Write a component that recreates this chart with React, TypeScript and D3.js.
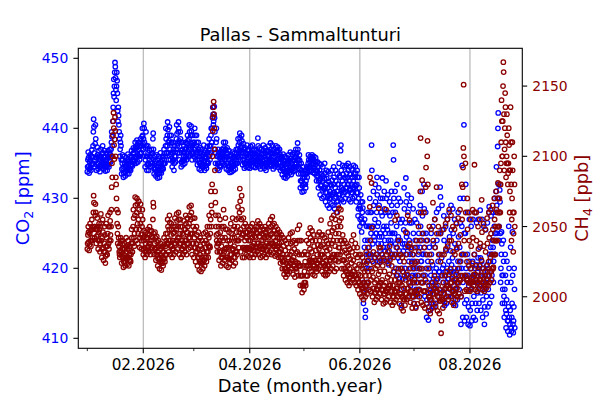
import React from "react";
import * as d3 from "d3";

// Title / labels
const title = "Pallas - Sammaltunturi";
const xLabel = "Date (month.year)";

// Axis ticks
const co2Ticks = [410, 420, 430, 440, 450];
const ch4Ticks = [2000, 2050, 2100, 2150];
const majorMonths = [1, 3, 5, 7]; // Feb, Apr, Jun, Aug 2026 (0-based)
const minorMonths = [0, 2, 4, 6];

// Month start (day offset from 1 Jan 2026) for each data block
const monthStartDays = [0, 31, 59, 90, 120, 151, 181, 212];
const PER_DAY = 6; // 4-hourly readings

// CO2 [ppm], one line per day
const co2Jan = [
  433.8, 434.5, 435.5, 436.6, 435.8, 434.6,
  433.6, 434.2, 435.2, 436.2, 435.5, 434.4,
  434.0, 434.8, 436.0, 436.9, 435.9, 434.9,
  435.0, 437.5, 439.5, 441.3, 440.2, 436.5,
  434.5, 435.5, 437.8, 440.5, 438.5, 435.8,
  434.0, 434.8, 435.8, 437.3, 436.2, 435.0,
  434.2, 435.0, 436.0, 436.8, 435.8, 434.6,
  433.8, 434.5, 435.5, 437.0, 436.0, 434.8,
  434.5, 435.2, 436.4, 437.5, 436.5, 435.2,
  434.2, 434.9, 435.8, 436.8, 436.0, 434.8,
  433.9, 434.5, 435.2, 436.4, 435.6, 434.5,
  434.0, 434.8, 435.8, 436.8, 436.0, 434.8,
  434.5, 435.3, 436.2, 437.0, 436.3, 435.2,
  436.0, 437.0, 438.0, 439.5, 438.8, 437.5,
  439.0, 441.0, 443.0, 445.0, 447.0, 444.5,
  446.0, 448.0, 449.4, 448.8, 447.2, 445.5,
  444.0, 446.0, 448.0, 446.8, 445.0, 442.5,
  441.0, 443.0, 441.8, 440.5, 439.5, 438.5,
  436.0, 437.0, 438.0, 439.0, 437.5, 435.5,
  433.5, 434.2, 435.0, 436.2, 435.5, 434.3,
  433.0, 433.6, 434.5, 436.0, 435.0, 433.8,
  433.2, 433.8, 434.6, 435.8, 435.0, 434.0,
  433.5, 434.2, 435.2, 436.3, 435.5, 434.4,
  433.5, 434.2, 435.0, 436.0, 435.3, 434.2,
  434.0, 434.8, 435.8, 436.8, 436.0, 434.8,
  434.6, 435.4, 436.4, 437.2, 436.5, 435.3,
  435.0, 435.8, 437.0, 438.0, 437.2, 436.0,
  435.0, 436.0, 437.2, 438.3, 437.6, 436.2,
  435.2, 436.0, 437.0, 438.0, 437.4, 436.0,
  435.5, 436.4, 437.5, 438.5, 437.8, 436.5,
  436.5, 437.5, 438.8, 440.0, 439.0, 437.8,
];
const co2Feb = [
  437.0, 438.5, 440.7, 440.0, 438.0, 436.0,
  434.5, 435.5, 437.2, 439.5, 437.5, 436.0,
  434.0, 434.8, 436.0, 437.5, 436.5, 435.0,
  434.0, 434.8, 435.5, 436.8, 436.0, 434.6,
  434.5, 435.2, 436.2, 437.0, 436.4, 435.0,
  435.0, 436.5, 438.5, 439.3, 437.0, 435.5,
  433.5, 434.2, 435.0, 436.0, 435.3, 434.2,
  433.2, 433.8, 434.6, 436.2, 435.5, 434.0,
  432.9, 433.5, 434.5, 436.0, 435.0, 433.6,
  433.0, 433.6, 434.5, 436.5, 435.2, 434.0,
  433.6, 434.3, 435.2, 436.0, 435.5, 434.3,
  434.2, 435.0, 436.0, 437.0, 436.4, 435.0,
  435.0, 436.0, 437.5, 440.0, 438.5, 436.5,
  436.5, 437.5, 439.0, 440.9, 439.8, 438.0,
  435.5, 436.5, 438.2, 440.2, 439.0, 437.0,
  435.5, 436.3, 437.8, 439.0, 438.0, 436.5,
  434.5, 435.3, 436.5, 438.0, 437.0, 435.5,
  434.0, 435.0, 436.0, 437.5, 436.6, 435.2,
  436.0, 437.0, 438.5, 440.5, 439.2, 437.5,
  436.5, 437.8, 439.5, 440.9, 440.0, 438.2,
  435.5, 436.5, 438.0, 439.5, 438.5, 436.8,
  434.5, 435.2, 436.5, 438.0, 437.0, 435.4,
  434.8, 435.4, 436.0, 437.5, 436.6, 435.5,
  435.0, 435.8, 437.0, 438.0, 437.2, 436.0,
  435.5, 436.3, 437.8, 439.0, 438.2, 436.6,
  436.0, 437.0, 438.5, 440.5, 439.5, 437.5,
  436.2, 437.2, 439.0, 440.3, 439.6, 437.8,
  435.5, 436.3, 437.5, 439.0, 438.0, 436.5,
];
const co2Mar = [
  436.0, 437.0, 438.0, 440.0, 439.0, 437.2,
  435.5, 436.3, 437.5, 439.0, 438.0, 436.6,
  434.8, 435.5, 436.5, 438.0, 437.0, 435.6,
  434.2, 435.0, 436.0, 437.2, 436.4, 435.0,
  434.0, 434.6, 435.5, 437.0, 436.0, 434.8,
  434.5, 435.2, 436.2, 437.6, 436.6, 435.3,
  434.0, 434.6, 435.8, 436.8, 436.0, 434.7,
  434.3, 435.0, 436.5, 437.4, 436.6, 435.2,
  435.0, 436.0, 437.0, 438.5, 437.5, 436.2,
  435.5, 436.5, 437.5, 439.0, 440.0, 438.0,
  438.0, 440.0, 441.5, 443.0, 442.0, 440.5,
  441.0, 442.0, 443.1, 441.5, 439.5, 437.0,
  435.0, 436.5, 438.0, 440.0, 438.5, 436.0,
  434.2, 435.0, 436.0, 437.0, 436.3, 435.0,
  434.0, 434.6, 435.8, 436.6, 436.0, 434.7,
  434.5, 435.2, 436.2, 437.0, 436.4, 435.2,
  435.0, 436.0, 437.0, 438.0, 437.2, 436.0,
  434.8, 435.5, 436.8, 438.0, 437.0, 435.8,
  434.2, 435.0, 436.0, 437.2, 436.4, 435.0,
  434.0, 434.6, 435.5, 436.8, 436.0, 434.6,
  433.7, 434.2, 435.0, 436.2, 435.5, 434.3,
  433.8, 434.5, 435.2, 436.6, 435.8, 434.6,
  434.0, 434.8, 435.6, 436.4, 435.9, 434.8,
  434.2, 435.0, 436.0, 437.0, 436.4, 435.0,
  435.0, 436.0, 437.0, 438.5, 437.6, 436.2,
  435.8, 436.8, 438.0, 439.3, 438.6, 437.2,
  435.5, 436.5, 437.5, 439.0, 438.2, 436.8,
  434.8, 435.5, 436.5, 437.8, 437.0, 435.6,
  434.3, 435.0, 436.0, 437.2, 436.4, 435.0,
  434.5, 435.2, 436.2, 437.6, 436.8, 435.3,
  434.4, 435.0, 435.8, 437.0, 436.2, 435.0,
];
const co2Apr = [
  434.3, 435.0, 436.0, 437.4, 436.5, 435.2,
  434.6, 435.4, 436.4, 437.6, 436.8, 435.5,
  434.5, 435.2, 436.0, 437.0, 436.4, 435.2,
  434.4, 435.0, 435.8, 436.8, 436.2, 435.0,
  434.8, 435.5, 436.5, 438.6, 437.5, 435.6,
  434.5, 435.2, 436.0, 437.2, 436.5, 435.3,
  434.2, 435.0, 435.8, 437.0, 436.3, 435.0,
  434.6, 435.3, 436.4, 437.6, 436.8, 435.5,
  434.3, 435.0, 436.0, 437.2, 436.4, 435.1,
  434.0, 434.7, 435.6, 436.8, 436.0, 434.8,
  434.5, 435.2, 436.2, 437.5, 436.7, 435.3,
  434.8, 435.5, 436.5, 437.9, 437.0, 435.6,
  434.6, 435.4, 436.4, 437.6, 436.8, 435.4,
  434.2, 435.0, 436.0, 437.0, 436.4, 435.0,
  434.5, 435.2, 436.2, 437.5, 436.7, 435.3,
  434.8, 435.5, 436.6, 437.3, 436.8, 435.6,
  434.4, 435.1, 436.0, 437.0, 436.3, 435.1,
  434.0, 434.6, 435.6, 436.0, 435.8, 434.6,
  433.4, 434.2, 435.0, 436.3, 435.5, 434.2,
  433.0, 433.8, 434.8, 436.0, 435.2, 433.9,
  432.9, 433.6, 434.5, 435.8, 435.0, 433.7,
  433.2, 434.0, 435.0, 436.2, 435.4, 434.0,
  433.6, 434.4, 435.2, 436.6, 435.7, 434.4,
  433.4, 434.2, 435.0, 436.3, 435.5, 434.2,
  433.8, 434.5, 435.4, 436.5, 435.8, 434.5,
  434.0, 434.8, 435.8, 437.0, 436.2, 434.9,
  434.5, 435.5, 436.5, 437.9, 437.0, 435.6,
  433.5, 434.2, 435.0, 436.2, 435.4, 434.2,
  431.5, 432.5, 433.5, 435.0, 434.0, 432.5,
  430.9, 431.8, 432.8, 434.5, 433.5, 432.0,
];
const co2May = [
  431.0, 432.0, 433.0, 434.0, 433.4, 432.0,
  431.5, 432.5, 433.5, 434.5, 434.0, 433.0,
  433.7, 434.3, 435.0, 436.2, 435.5, 434.4,
  433.8, 434.5, 435.2, 436.0, 435.6, 434.5,
  434.0, 434.8, 435.5, 436.2, 435.8, 434.8,
  433.7, 434.3, 435.0, 436.0, 435.4, 434.3,
  433.5, 434.0, 434.8, 435.8, 435.2, 434.0,
  432.5, 433.2, 434.0, 435.2, 434.5, 433.2,
  431.5, 432.5, 433.5, 435.0, 434.0, 432.6,
  430.5, 431.8, 432.8, 434.8, 433.5, 431.8,
  430.0, 431.2, 432.5, 434.5, 433.2, 431.4,
  430.2, 431.5, 432.8, 435.0, 433.6, 431.6,
  429.5, 430.8, 432.0, 434.0, 432.8, 430.8,
  429.0, 430.2, 431.5, 433.8, 432.4, 430.4,
  428.6, 430.0, 431.0, 433.5, 432.0, 430.0,
  429.2, 430.5, 431.8, 434.0, 432.6, 430.6,
  429.0, 430.8, 432.0, 434.5, 433.0, 430.8,
  428.5, 430.0, 431.5, 434.0, 432.5, 430.2,
  428.0, 429.5, 431.0, 433.5, 432.0, 429.6,
  429.0, 430.5, 432.0, 435.0, 433.2, 430.6,
  430.0, 433.0, 436.8, 437.6, 434.0, 431.5,
  429.8, 431.2, 432.5, 434.7, 433.4, 431.2,
  429.5, 430.8, 432.0, 434.5, 433.0, 430.9,
  430.0, 431.5, 432.8, 434.7, 433.6, 431.5,
  430.5, 432.0, 433.0, 435.0, 434.0, 432.0,
  429.8, 431.2, 432.5, 434.5, 433.4, 431.2,
  429.5, 430.8, 432.0, 434.2, 433.0, 430.8,
  430.0, 431.5, 432.5, 434.7, 433.5, 431.5,
  430.2, 431.8, 433.0, 434.5, 433.6, 431.8,
  429.5, 430.8, 432.0, 434.0, 433.0, 430.8,
  427.5, 428.5, 430.0, 433.0, 431.5, 428.8,
];
const co2Jun = [
  426.0, 427.0, 428.5, 430.5, 429.5, 427.2,
  425.2, 426.5, 428.0, 429.5, 428.6, 426.5,
  415.0, 418.0, 421.0, 423.0, 427.0, 424.0,
  413.0, 414.0, 417.0, 420.0, 426.0, 422.0,
  418.0, 421.0, 424.0, 428.0, 426.0, 422.0,
  420.0, 423.0, 426.0, 430.0, 428.0, 424.0,
  422.0, 425.0, 428.0, 437.6, 434.0, 426.0,
  421.0, 423.5, 426.0, 431.0, 429.0, 424.5,
  421.5, 424.0, 427.0, 432.0, 429.5, 425.0,
  422.0, 425.0, 428.0, 433.0, 430.5, 426.0,
  421.0, 423.5, 426.5, 431.5, 429.0, 424.5,
  420.9, 422.5, 425.0, 430.0, 428.0, 423.5,
  422.0, 424.5, 427.5, 432.9, 430.0, 425.5,
  421.5, 423.0, 426.0, 431.0, 428.5, 424.0,
  422.5, 425.0, 428.0, 432.5, 430.0, 426.0,
  421.0, 423.0, 425.5, 430.5, 428.0, 424.0,
  420.5, 422.5, 425.0, 429.5, 427.5, 423.5,
  421.5, 424.0, 426.5, 431.0, 429.0, 425.0,
  422.0, 425.0, 428.0, 437.6, 435.5, 430.0,
  419.5, 422.0, 425.0, 431.0, 428.0, 423.5,
  420.0, 423.0, 426.0, 432.0, 429.0, 424.0,
  419.0, 421.5, 424.5, 430.0, 427.0, 422.5,
  418.6, 421.0, 424.0, 429.5, 426.5, 422.0,
  414.7, 417.0, 420.0, 427.0, 423.5, 418.5,
  419.5, 422.5, 425.5, 431.5, 428.5, 423.5,
  420.0, 423.0, 426.5, 432.9, 429.5, 424.5,
  419.0, 422.0, 425.0, 430.5, 428.0, 423.0,
  418.6, 421.0, 424.0, 429.0, 426.5, 422.0,
  417.5, 420.0, 423.0, 430.0, 426.5, 421.0,
  416.0, 419.0, 422.0, 428.5, 425.0, 420.0,
];
const co2Jul = [
  415.0, 418.0, 421.0, 427.0, 424.0, 419.0,
  414.5, 417.0, 420.0, 426.5, 423.0, 418.0,
  416.0, 419.0, 422.0, 428.0, 425.0, 420.0,
  417.0, 420.0, 423.0, 429.0, 426.0, 421.0,
  418.0, 421.0, 424.0, 431.0, 427.5, 422.0,
  419.0, 422.0, 425.0, 432.0, 428.5, 423.0,
  416.0, 419.0, 422.0, 428.0, 425.0, 420.0,
  413.0, 415.5, 418.0, 424.0, 421.0, 416.5,
  412.6, 414.5, 417.0, 423.0, 420.0, 415.5,
  414.0, 416.5, 419.0, 425.0, 422.0, 417.5,
  415.0, 418.0, 420.5, 426.0, 423.5, 418.5,
  414.5, 417.0, 419.5, 427.0, 423.0, 418.0,
  415.0, 417.5, 420.0, 428.0, 424.0, 418.5,
  416.0, 418.5, 421.0, 428.5, 425.0, 419.5,
  417.0, 419.5, 422.0, 431.6, 430.2, 425.0,
  416.5, 419.0, 421.5, 429.0, 425.5, 420.0,
  415.5, 418.0, 420.5, 427.5, 424.0, 419.0,
  414.7, 417.0, 419.5, 426.0, 422.5, 418.0,
  415.0, 417.5, 420.0, 427.0, 423.5, 418.5,
  416.0, 418.5, 421.0, 428.0, 424.5, 419.5,
  417.0, 419.5, 422.5, 429.0, 425.5, 420.5,
  416.0, 418.5, 421.5, 428.5, 425.0, 419.5,
  415.0, 417.5, 420.0, 427.0, 423.5, 418.5,
  414.7, 417.0, 419.5, 426.5, 423.0, 418.0,
  415.5, 418.0, 421.0, 428.0, 424.5, 419.0,
  417.0, 420.0, 423.0, 430.0, 426.5, 421.0,
  412.0, 416.0, 420.0, 426.0, 434.7, 422.0,
  413.0, 418.0, 422.0, 430.0, 440.5, 425.0,
  412.5, 415.0, 419.0, 425.0, 432.0, 420.0,
  413.0, 415.5, 418.5, 422.0, 428.0, 419.0,
  412.0, 414.5, 417.5, 421.0, 427.0, 418.0,
];
const co2Aug = [
  411.8, 414.0, 417.0, 420.0, 426.0, 418.0,
  412.5, 415.0, 418.0, 421.0, 427.0, 419.0,
  413.0, 416.0, 419.0, 422.0, 428.0, 420.0,
  412.6, 415.0, 418.0, 420.5, 426.5, 419.0,
  414.0, 416.5, 419.5, 421.5, 427.0, 420.0,
  415.0, 417.5, 420.5, 423.0, 428.3, 421.5,
  414.0, 416.5, 419.0, 421.0, 427.0, 420.0,
  413.0, 415.5, 418.0, 420.0, 426.0, 419.0,
  412.0, 414.5, 417.0, 419.0, 425.5, 418.0,
  413.5, 416.0, 418.5, 420.5, 426.5, 419.5,
  414.5, 417.0, 420.0, 428.0, 428.8, 422.0,
  415.0, 418.0, 421.0, 423.0, 427.5, 422.0,
  416.0, 419.0, 422.0, 424.0, 428.0, 423.0,
  418.0, 421.0, 424.0, 426.0, 430.0, 425.0,
  422.0, 425.0, 428.0, 431.0, 434.5, 429.0,
  425.0, 430.0, 437.4, 440.0, 442.2, 432.0,
  424.0, 426.0, 428.0, 431.2, 429.5, 425.0,
  418.0, 420.0, 422.0, 425.2, 423.5, 419.0,
  415.0, 417.0, 419.0, 424.0, 421.0, 416.0,
  413.0, 415.0, 417.0, 422.0, 419.0, 414.0,
  411.5, 413.5, 415.5, 421.0, 418.0, 412.5,
  411.0, 412.5, 414.5, 426.0, 420.0, 413.0,
  410.5, 412.0, 414.0, 423.0, 418.0, 411.5,
  411.0, 413.0, 415.0, 425.2, 419.0, 412.0,
  410.8, 412.5, 414.5, 420.0, 417.0, 411.5,
];

// CH4 [ppb], one line per day
const ch4Jan = [
  2034, 2038, 2044, 2050, 2046, 2039,
  2033, 2037, 2045, 2052, 2047, 2040,
  2036, 2040, 2048, 2055, 2050, 2042,
  2040, 2048, 2060, 2072, 2067, 2050,
  2042, 2050, 2058, 2066, 2060, 2048,
  2038, 2043, 2048, 2056, 2050, 2044,
  2034, 2040, 2046, 2052, 2048, 2040,
  2032, 2038, 2050, 2059, 2052, 2040,
  2028, 2034, 2042, 2055, 2046, 2035,
  2026, 2032, 2038, 2050, 2044, 2032,
  2024, 2029, 2036, 2052, 2042, 2030,
  2030, 2036, 2045, 2058, 2050, 2038,
  2034, 2040, 2050, 2060, 2054, 2044,
  2040, 2050, 2062, 2078, 2095, 2085,
  2100, 2115, 2125, 2131, 2120, 2108,
  2098, 2112, 2128, 2118, 2100, 2085,
  2080, 2070, 2062, 2052, 2045, 2038,
  2060, 2050, 2042, 2036, 2032, 2030,
  2028, 2033, 2038, 2042, 2040, 2032,
  2024, 2029, 2034, 2040, 2037, 2028,
  2021, 2025, 2030, 2038, 2034, 2025,
  2022, 2027, 2032, 2042, 2036, 2027,
  2023, 2028, 2034, 2040, 2037, 2028,
  2022, 2026, 2030, 2036, 2033, 2026,
  2025, 2030, 2038, 2048, 2042, 2032,
  2032, 2038, 2050, 2062, 2056, 2042,
  2036, 2045, 2058, 2071, 2065, 2048,
  2040, 2048, 2060, 2070, 2066, 2052,
  2038, 2045, 2055, 2068, 2062, 2048,
  2035, 2042, 2052, 2066, 2058, 2044,
  2034, 2040, 2050, 2062, 2055, 2042,
];
const ch4Feb = [
  2030, 2034, 2040, 2047, 2043, 2035,
  2028, 2032, 2038, 2046, 2042, 2033,
  2030, 2035, 2042, 2048, 2045, 2036,
  2032, 2038, 2044, 2050, 2047, 2038,
  2030, 2034, 2040, 2047, 2043, 2035,
  2035, 2042, 2055, 2067, 2064, 2045,
  2030, 2034, 2038, 2046, 2042, 2034,
  2026, 2030, 2035, 2043, 2039, 2030,
  2022, 2027, 2032, 2040, 2036, 2027,
  2020, 2025, 2030, 2038, 2034, 2025,
  2019, 2024, 2028, 2036, 2032, 2024,
  2022, 2027, 2032, 2042, 2037, 2027,
  2025, 2030, 2036, 2045, 2040, 2030,
  2030, 2038, 2045, 2055, 2050, 2038,
  2032, 2040, 2048, 2058, 2053, 2040,
  2030, 2036, 2044, 2052, 2048, 2036,
  2028, 2034, 2040, 2050, 2045, 2034,
  2030, 2038, 2046, 2056, 2050, 2038,
  2032, 2040, 2048, 2059, 2054, 2040,
  2034, 2042, 2050, 2060, 2055, 2042,
  2030, 2038, 2045, 2055, 2050, 2038,
  2028, 2034, 2040, 2050, 2045, 2034,
  2030, 2036, 2044, 2054, 2048, 2036,
  2032, 2040, 2048, 2058, 2052, 2040,
  2030, 2038, 2046, 2056, 2050, 2038,
  2034, 2042, 2052, 2064, 2058, 2042,
  2035, 2045, 2055, 2065, 2060, 2045,
  2030, 2038, 2045, 2056, 2050, 2038,
];
const ch4Mar = [
  2028, 2035, 2042, 2056, 2048, 2035,
  2025, 2032, 2038, 2050, 2044, 2032,
  2022, 2028, 2034, 2046, 2040, 2028,
  2019, 2025, 2030, 2042, 2036, 2025,
  2018, 2024, 2028, 2040, 2034, 2024,
  2020, 2026, 2032, 2045, 2038, 2026,
  2022, 2028, 2035, 2046, 2040, 2028,
  2025, 2032, 2038, 2050, 2044, 2032,
  2028, 2036, 2042, 2058, 2050, 2036,
  2035, 2045, 2055, 2075, 2065, 2050,
  2060, 2080, 2100, 2118, 2128, 2135,
  2139, 2130, 2120, 2105, 2090, 2075,
  2067, 2058, 2050, 2044, 2040, 2036,
  2032, 2038, 2045, 2058, 2050, 2038,
  2026, 2032, 2040, 2055, 2046, 2032,
  2022, 2028, 2036, 2050, 2042, 2028,
  2024, 2030, 2040, 2062, 2050, 2032,
  2026, 2034, 2042, 2056, 2048, 2034,
  2022, 2028, 2035, 2048, 2040, 2028,
  2021, 2027, 2034, 2046, 2040, 2027,
  2024, 2030, 2038, 2052, 2045, 2030,
  2026, 2034, 2042, 2056, 2048, 2034,
  2022, 2028, 2036, 2050, 2042, 2028,
  2024, 2032, 2040, 2055, 2046, 2032,
  2030, 2040, 2050, 2064, 2056, 2040,
  2035, 2046, 2060, 2077, 2068, 2048,
  2032, 2042, 2055, 2072, 2062, 2044,
  2028, 2035, 2045, 2056, 2050, 2035,
  2028, 2034, 2040, 2052, 2046, 2034,
  2030, 2035, 2042, 2050, 2046, 2035,
  2029, 2034, 2040, 2048, 2044, 2034,
];
const ch4Apr = [
  2028, 2034, 2040, 2050, 2045, 2034,
  2030, 2036, 2042, 2052, 2047, 2036,
  2028, 2033, 2038, 2048, 2043, 2033,
  2030, 2035, 2042, 2050, 2046, 2035,
  2032, 2038, 2045, 2054, 2050, 2038,
  2030, 2036, 2043, 2052, 2047, 2036,
  2028, 2034, 2040, 2050, 2045, 2034,
  2029, 2034, 2040, 2048, 2044, 2034,
  2030, 2036, 2042, 2050, 2046, 2036,
  2028, 2033, 2038, 2048, 2043, 2033,
  2030, 2036, 2042, 2052, 2047, 2036,
  2032, 2038, 2044, 2055, 2050, 2038,
  2030, 2038, 2045, 2057, 2051, 2038,
  2031, 2036, 2042, 2052, 2047, 2036,
  2029, 2034, 2040, 2050, 2045, 2034,
  2030, 2036, 2042, 2048, 2045, 2036,
  2028, 2032, 2038, 2046, 2042, 2032,
  2024, 2028, 2034, 2044, 2039, 2028,
  2020, 2025, 2030, 2042, 2036, 2025,
  2016, 2020, 2026, 2040, 2033, 2020,
  2014, 2018, 2024, 2038, 2030, 2018,
  2016, 2022, 2028, 2042, 2035, 2022,
  2018, 2024, 2030, 2045, 2038, 2024,
  2020, 2026, 2032, 2046, 2039, 2026,
  2016, 2022, 2028, 2040, 2034, 2022,
  2014, 2020, 2025, 2038, 2031, 2020,
  2018, 2024, 2032, 2048, 2040, 2024,
  2015, 2022, 2030, 2051, 2040, 2022,
  2008, 2015, 2022, 2040, 2030, 2015,
  2003, 2008, 2015, 2030, 2022, 2008,
];
const ch4May = [
  2005, 2010, 2018, 2032, 2025, 2010,
  2008, 2015, 2022, 2040, 2030, 2015,
  2015, 2022, 2030, 2045, 2038, 2022,
  2020, 2026, 2034, 2049, 2042, 2026,
  2018, 2025, 2032, 2047, 2040, 2025,
  2016, 2022, 2028, 2044, 2036, 2022,
  2015, 2020, 2026, 2040, 2033, 2020,
  2018, 2024, 2030, 2044, 2037, 2024,
  2020, 2026, 2034, 2046, 2040, 2026,
  2022, 2030, 2036, 2054.6, 2044, 2030,
  2018, 2024, 2030, 2044, 2037, 2024,
  2016, 2022, 2028, 2042, 2035, 2022,
  2015, 2020, 2026, 2040, 2033, 2020,
  2016, 2022, 2030, 2046, 2038, 2022,
  2018, 2026, 2034, 2052, 2043, 2026,
  2020, 2028, 2038, 2056, 2047, 2028,
  2022, 2030, 2040, 2058, 2049, 2030,
  2018, 2026, 2036, 2055, 2045, 2026,
  2020, 2030, 2040, 2060, 2050, 2030,
  2025, 2035, 2045, 2063, 2054, 2035,
  2030, 2040, 2050, 2062, 2056, 2040,
  2020, 2026, 2032, 2044, 2038, 2026,
  2015, 2020, 2026, 2040, 2033, 2020,
  2012, 2018, 2024, 2038, 2031, 2018,
  2010, 2016, 2022, 2036, 2029, 2016,
  2008, 2014, 2020, 2034, 2027, 2014,
  2010, 2016, 2024, 2040, 2032, 2016,
  2012, 2018, 2026, 2044, 2035, 2018,
  2010, 2015, 2022, 2038, 2030, 2015,
  2008, 2013, 2020, 2035, 2028, 2013,
  2005, 2010, 2016, 2030, 2023, 2010,
];
const ch4Jun = [
  2002, 2008, 2015, 2030, 2022, 2008,
  2000, 2006, 2012, 2028, 2020, 2006,
  1998, 2004, 2010, 2025, 2018, 2004,
  2000, 2008, 2015, 2032, 2024, 2008,
  2002, 2010, 2018, 2035, 2026, 2010,
  2005, 2015, 2030, 2064, 2085, 2040,
  2004, 2012, 2020, 2081, 2049, 2018,
  2000, 2006, 2014, 2032, 2024, 2006,
  1996, 2003, 2010, 2028, 2020, 2003,
  1998, 2005, 2012, 2030, 2022, 2005,
  2000, 2008, 2016, 2063, 2035, 2008,
  2002, 2010, 2018, 2035, 2026, 2010,
  1998, 2005, 2012, 2030, 2022, 2005,
  1995, 2002, 2008, 2026, 2018, 2002,
  1996, 2004, 2010, 2062, 2030, 2004,
  1998, 2006, 2014, 2032, 2024, 2006,
  2000, 2008, 2016, 2036, 2026, 2008,
  1996, 2004, 2012, 2030, 2022, 2004,
  1994, 2000, 2008, 2028, 2018, 2000,
  1996, 2004, 2012, 2054.6, 2030, 2004,
  1998, 2006, 2015, 2058, 2035, 2006,
  2000, 2010, 2020, 2040, 2030, 2010,
  1995, 2002, 2010, 2030, 2020, 2002,
  1992, 2000, 2008, 2028, 2018, 2000,
  1990, 1998, 2006, 2025, 2015, 1998,
  1994, 2002, 2012, 2046, 2030, 2002,
  1998, 2006, 2016, 2058, 2036, 2006,
  2000, 2010, 2020, 2054.6, 2038, 2010,
  1996, 2004, 2014, 2034, 2024, 2004,
  1992, 2000, 2010, 2030, 2020, 2000,
];
const ch4Jul = [
  1995, 2004, 2012, 2035, 2024, 2004,
  1992, 2002, 2010, 2040, 2025, 2002,
  1995, 2005, 2015, 2050, 2032, 2005,
  2000, 2020, 2040, 2075, 2113, 2060,
  1996, 2010, 2020, 2083, 2045, 2010,
  1994, 2004, 2015, 2060, 2035, 2004,
  1992, 2004, 2012, 2078, 2092, 2040,
  1995, 2030, 2100, 2111, 2080, 2020,
  1990, 2000, 2008, 2050, 2030, 2000,
  1988, 1998, 2005, 2048, 2025, 1998,
  1992, 2002, 2010, 2067, 2040, 2002,
  1995, 2006, 2015, 2055, 2035, 2006,
  1993, 2004, 2012, 2078, 2045, 2004,
  1990, 2000, 2008, 2050, 2030, 2000,
  1988, 1997, 2005, 2045, 2025, 1997,
  1974, 1983, 1998, 2030, 2015, 1998,
  1992, 2002, 2010, 2048, 2030, 2002,
  1996, 2006, 2015, 2052, 2034, 2006,
  2000, 2008, 2018, 2055, 2036, 2008,
  1998, 2006, 2016, 2062, 2040, 2006,
  2000, 2010, 2020, 2058, 2040, 2010,
  1996, 2004, 2014, 2050, 2032, 2004,
  1994, 2002, 2012, 2048, 2030, 2002,
  1998, 2006, 2016, 2052, 2034, 2006,
  2000, 2010, 2020, 2056, 2038, 2010,
  2002, 2012, 2025, 2062, 2044, 2012,
  2000, 2015, 2030, 2080, 2055, 2015,
  2078, 2092, 2106, 2151, 2100, 2040,
  2004, 2015, 2030, 2095, 2060, 2015,
  2005, 2012, 2025, 2070, 2048, 2012,
  2004, 2010, 2022, 2060, 2040, 2010,
];
const ch4Aug = [
  2004, 2010, 2020, 2055, 2036, 2010,
  2006, 2014, 2024, 2062, 2042, 2014,
  2008, 2016, 2030, 2094, 2060, 2016,
  2005, 2012, 2022, 2060, 2040, 2012,
  2004, 2010, 2018, 2050, 2034, 2010,
  2006, 2012, 2022, 2055, 2038, 2012,
  2008, 2015, 2026, 2069, 2046, 2015,
  2005, 2010, 2020, 2052, 2036, 2010,
  2004, 2008, 2018, 2048, 2032, 2008,
  2006, 2012, 2022, 2056, 2038, 2012,
  2008, 2015, 2025, 2060, 2042, 2015,
  2010, 2018, 2028, 2062, 2045, 2018,
  2012, 2020, 2030, 2065, 2048, 2020,
  2021, 2030, 2040, 2070, 2055, 2030,
  2030, 2040, 2050, 2075, 2062, 2040,
  2040, 2050, 2060, 2081, 2070, 2050,
  2050, 2060, 2070, 2090, 2080, 2060,
  2080, 2095, 2110, 2140, 2125, 2100,
  2100, 2125, 2150, 2167, 2160, 2130,
  2090, 2105, 2120, 2145, 2135, 2110,
  2085, 2095, 2100, 2130, 2115, 2095,
  2080, 2088, 2095, 2120, 2108, 2090,
  2060, 2075, 2090, 2135, 2110, 2080,
  2040, 2055, 2070, 2110, 2090, 2060,
  2032, 2045, 2060, 2100, 2080, 2050,
];

const co2Months = [co2Jan, co2Feb, co2Mar, co2Apr, co2May, co2Jun, co2Jul, co2Aug];
const ch4Months = [ch4Jan, ch4Feb, ch4Mar, ch4Apr, ch4May, ch4Jun, ch4Jul, ch4Aug];

const DAY = 86400000;
const YEAR_START = Date.UTC(2026, 0, 1);

function toPoints(months: number[][]) {
  const pts: { t: Date; v: number }[] = [];
  months.forEach((arr, m) => {
    arr.forEach((v, i) => {
      const day = monthStartDays[m] + Math.floor(i / PER_DAY) + (i % PER_DAY) / PER_DAY;
      pts.push({ t: new Date(YEAR_START + day * DAY), v });
    });
  });
  return pts;
}

const W = 600;
const H = 400;
const M = { left: 78.3, right: 522.3, top: 48.3, bottom: 348.3 };
const FONT = "DejaVu Sans, sans-serif";
const BLUE = "#0000ff";
const RED = "#8b0000";
const MARKER_R = 2.25;
const MARKER_W = 1.3;

export default function App() {
  const x = d3
    .scaleUtc()
    .domain([new Date(Date.UTC(2025, 11, 27)), new Date(Date.UTC(2026, 7, 30))])
    .range([M.left, M.right]);
  const yL = d3.scaleLinear().domain([408.571, 451.429]).range([M.bottom, M.top]);
  const yR = d3.scaleLinear().domain([1963.3, 2176.9]).range([M.bottom, M.top]);

  const co2 = toPoints(co2Months);
  const ch4 = toPoints(ch4Months);
  const fmt = d3.utcFormat("%m.%Y");
  const major = majorMonths.map((m) => new Date(Date.UTC(2026, m, 1)));
  const minor = minorMonths.map((m) => new Date(Date.UTC(2026, m, 1)));

  return (
    <svg
      width={W}
      height={H}
      style={{ position: "absolute", left: 0, top: 0, background: "#fff" }}
      fontFamily={FONT}
    >
      <rect x={0} y={0} width={W} height={H} fill="#fff" />
      {major.map((d, i) => (
        <line key={"g" + i} x1={x(d)} x2={x(d)} y1={M.top} y2={M.bottom} stroke="#b0b0b0" strokeWidth={1.1} />
      ))}
      <defs>
        <clipPath id="plot">
          <rect x={M.left} y={M.top} width={M.right - M.left} height={M.bottom - M.top} />
        </clipPath>
      </defs>
      <g clipPath="url(#plot)" fill="none" strokeWidth={MARKER_W}>
        <g stroke={BLUE}>
          {co2.map((p, i) => (
            <circle key={i} cx={x(p.t)} cy={yL(p.v)} r={MARKER_R} />
          ))}
        </g>
        <g stroke={RED}>
          {ch4.map((p, i) => (
            <circle key={i} cx={x(p.t)} cy={yR(p.v)} r={MARKER_R} />
          ))}
        </g>
      </g>
      <rect
        x={M.left}
        y={M.top}
        width={M.right - M.left}
        height={M.bottom - M.top}
        fill="none"
        stroke="#000"
        strokeWidth={1.1}
      />
      {major.map((d, i) => (
        <g key={"xt" + i}>
          <line x1={x(d)} x2={x(d)} y1={M.bottom} y2={M.bottom + 4.9} stroke="#000" strokeWidth={1.1} />
          <text x={x(d)} y={369.5} textAnchor="middle" fontSize={15.3} fill="#000">
            {fmt(d)}
          </text>
        </g>
      ))}
      {minor.map((d, i) => (
        <line key={"xm" + i} x1={x(d)} x2={x(d)} y1={M.bottom} y2={M.bottom + 2.8} stroke="#000" strokeWidth={0.8} />
      ))}
      {co2Ticks.map((t) => (
        <g key={"l" + t}>
          <line x1={M.left - 4.9} x2={M.left} y1={yL(t)} y2={yL(t)} stroke="#000" strokeWidth={1.1} />
          <text x={68.3} y={yL(t)} dy="0.36em" textAnchor="end" fontSize={13.9} fill={BLUE}>
            {t}
          </text>
        </g>
      ))}
      {ch4Ticks.map((t) => (
        <g key={"r" + t}>
          <line x1={M.right} x2={M.right + 4.9} y1={yR(t)} y2={yR(t)} stroke="#000" strokeWidth={1.1} />
          <text x={532.3} y={yR(t)} dy="0.36em" textAnchor="start" fontSize={13.9} fill={RED}>
            {t}
          </text>
        </g>
      ))}
      <text x={300.3} y={41} textAnchor="middle" fontSize={17.8} fill="#000">
        {title}
      </text>
      <text x={300.3} y={391.5} textAnchor="middle" fontSize={17.8} fill="#000">
        {xLabel}
      </text>
      <text transform={`translate(29,198.3) rotate(-90)`} textAnchor="middle" fontSize={17.8} fill={BLUE}>
        CO<tspan fontSize={12.5} dy={3.5}>2</tspan>
        <tspan dy={-3.5}> [ppm]</tspan>
      </text>
      <text transform={`translate(588,198.3) rotate(-90)`} textAnchor="middle" fontSize={17.8} fill={RED}>
        CH<tspan fontSize={12.5} dy={3.5}>4</tspan>
        <tspan dy={-3.5}> [ppb]</tspan>
      </text>
    </svg>
  );
}
